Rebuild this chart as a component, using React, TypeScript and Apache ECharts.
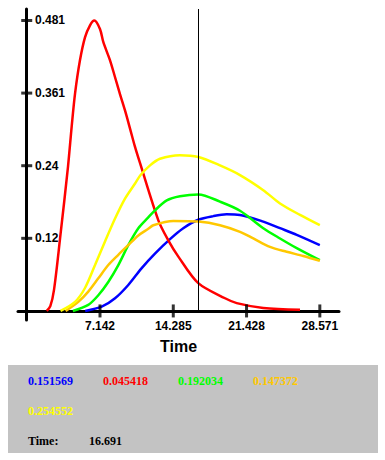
import React, { useEffect, useRef } from "react";
import * as echarts from "echarts";

// ---- data ----
const seriesNames = ["blue", "red", "green", "orange", "yellow"];
const seriesColors = ["#0000ff", "#ff0000", "#00ff00", "#ffc800", "#ffff00"];

const blueData: number[][] = [
  [5.7, 0.0], [7.31, 0.007], [8.61, 0.021], [9.9, 0.043], [11.21, 0.071],
  [12.5, 0.095], [13.97, 0.119], [15.26, 0.137], [16.73, 0.151], [18.19, 0.157],
  [19.49, 0.16], [20.79, 0.159], [23.06, 0.148], [24.69, 0.137], [26.32, 0.126],
  [28.571, 0.109],
];
const redData: number[][] = [
  [1.95, 0.0], [2.3, 0.008], [2.66, 0.035], [3.25, 0.12], [4.03, 0.24],
  [4.38, 0.305], [4.71, 0.36], [5.19, 0.415], [5.68, 0.453], [6.17, 0.473],
  [6.59, 0.481], [7.14, 0.467], [7.47, 0.445], [8.12, 0.415], [8.61, 0.387],
  [9.09, 0.359], [9.58, 0.332], [10.07, 0.302], [10.55, 0.272], [11.04, 0.245],
  [12.83, 0.15], [13.8, 0.117], [14.78, 0.09], [16.72, 0.046], [19.33, 0.021],
  [20.47, 0.013], [23.06, 0.005], [26.64, 0.002],
];
const greenData: number[][] = [
  [4.5, 0.0], [6.0, 0.01], [6.98, 0.026], [7.95, 0.048], [8.93, 0.076],
  [9.9, 0.109], [10.88, 0.137], [11.85, 0.155], [12.4, 0.165], [13.65, 0.183],
  [14.94, 0.19], [16.73, 0.193], [18.84, 0.181], [20.79, 0.166], [23.06, 0.137],
  [24.69, 0.12], [26.32, 0.104], [28.571, 0.084],
];
const orangeData: number[][] = [
  [3.8, 0.0], [5.03, 0.015], [6.0, 0.032], [6.98, 0.054], [7.95, 0.076],
  [8.93, 0.093], [9.9, 0.109], [10.88, 0.125], [11.85, 0.136], [12.34, 0.142],
  [14.29, 0.149], [16.73, 0.148], [18.84, 0.142], [20.79, 0.131], [22.09, 0.12],
  [23.71, 0.106], [25.34, 0.098], [26.96, 0.091], [28.571, 0.083],
];
const yellowData: number[][] = [
  [3.3, 0.0], [4.71, 0.015], [5.68, 0.038], [6.66, 0.076], [7.63, 0.115],
  [8.61, 0.153], [9.58, 0.186], [10.56, 0.211], [11.1, 0.225], [12.02, 0.241],
  [12.99, 0.252], [14.94, 0.258], [16.73, 0.255], [18.84, 0.241], [20.79, 0.225],
  [23.06, 0.2], [24.69, 0.178], [26.64, 0.159], [28.571, 0.142],
];
const allData = [blueData, redData, greenData, orangeData, yellowData];

const xTickValues = [7.14275, 14.2855, 21.42825, 28.571];
const xTickLabels = ["7.142", "14.285", "21.428", "28.571"];
const yTickValues = [0.12025, 0.2405, 0.36075, 0.481];
const yTickLabels = ["0.12", "0.24", "0.361", "0.481"];

const cursorTime = 16.691;
const cursorTimeLabel = "16.691";
const cursorValueLabels = ["0.151569", "0.045418", "0.192034", "0.147372", "0.254552"];

function closestLabel(v: number, vals: number[], labels: string[]) {
  let best = 0;
  for (let i = 1; i < vals.length; i++) {
    if (Math.abs(vals[i] - v) < Math.abs(vals[best] - v)) best = i;
  }
  return Math.abs(vals[best] - v) < 1e-6 ? labels[best] : "";
}

export default function App() {
  const ref = useRef<HTMLDivElement>(null);
  useEffect(() => {
    document.body.style.margin = "0";
    const chart = echarts.init(ref.current!, null, { renderer: "svg" });
    const axisFont = "Liberation Sans";
    const legendFont = 'bold 12px "Liberation Serif"';
    const legendPos = [
      [28, 381], [103, 381], [178, 381], [253, 381], [28, 411],
    ];
    const series: any[] = allData.map((d, i) => ({
      name: seriesNames[i],
      type: "line",
      data: d,
      smooth: 0.3,
      showSymbol: false,
      symbol: "none",
      lineStyle: { color: seriesColors[i], width: 2.5 },
      itemStyle: { color: seriesColors[i] },
      silent: true,
      z: 3,
    }));
    series.push({
      type: "line",
      data: [],
      silent: true,
      markLine: {
        silent: true,
        symbol: ["none", "none"],
        label: { show: false },
        lineStyle: { color: "#000", width: 1, type: "solid" },
        data: [[{ coord: [cursorTime, 0] }, { coord: [cursorTime, 0.5] }]],
      },
    });
    series.push({
      type: "scatter",
      data: yTickValues.map((v) => [0, v]),
      symbol: "rect",
      symbolSize: [11, 3],
      itemStyle: { color: "#000" },
      silent: true,
      z: 4,
    });
    series.push({
      type: "scatter",
      data: xTickValues.map((v) => [v, 0]),
      symbol: "rect",
      symbolSize: [3, 13],
      itemStyle: { color: "#000" },
      silent: true,
      z: 4,
    });
    const graphics: any[] = [
      {
        type: "rect",
        shape: { x: 8, y: 365, width: 370, height: 88 },
        style: { fill: "#c3c3c3" },
        silent: true,
      },
    ];
    cursorValueLabels.forEach((t, i) => {
      graphics.push({
        type: "text",
        x: legendPos[i][0],
        y: legendPos[i][1],
        style: { text: t, fill: seriesColors[i], font: legendFont, verticalAlign: "middle" },
        silent: true,
      });
    });
    graphics.push({
      type: "text",
      x: 28,
      y: 441,
      style: { text: "Time:", fill: "#000", font: legendFont, verticalAlign: "middle" },
      silent: true,
    });
    graphics.push({
      type: "text",
      x: 89,
      y: 441,
      style: { text: cursorTimeLabel, fill: "#000", font: legendFont, verticalAlign: "middle" },
      silent: true,
    });

    chart.setOption({
      animation: false,
      backgroundColor: "#ffffff",
      grid: { left: 18, right: 46, top: 9, bottom: 140, containLabel: false },
      xAxis: {
        type: "value",
        min: -0.85,
        max: 30.44,
        name: "Time",
        nameLocation: "middle",
        nameGap: 18,
        nameTextStyle: { fontFamily: axisFont, fontWeight: "bold", fontSize: 16, color: "#000" },
        axisLine: { onZero: true, lineStyle: { color: "#000", width: 3 } },
        axisTick: { show: false },
        splitLine: { show: false },
        axisLabel: {
          customValues: xTickValues,
          margin: 0,
          fontFamily: axisFont,
          fontWeight: "bold",
          fontSize: 12,
          color: "#000",
          formatter: (v: number) => closestLabel(v, xTickValues, xTickLabels),
        },
      },
      yAxis: {
        type: "value",
        min: -0.015,
        max: 0.5,
        axisLine: { show: true, onZero: true, lineStyle: { color: "#000", width: 3 } },
        axisTick: { show: false },
        splitLine: { show: false },
        axisLabel: {
          customValues: yTickValues,
          inside: true,
          margin: 17,
          fontFamily: axisFont,
          fontWeight: "bold",
          fontSize: 12,
          color: "#000",
          formatter: (v: number) => closestLabel(v, yTickValues, yTickLabels),
        },
      },
      series,
      graphic: graphics,
    });
    return () => chart.dispose();
  }, []);
  return <div ref={ref} style={{ width: 385, height: 460 }} />;
}
